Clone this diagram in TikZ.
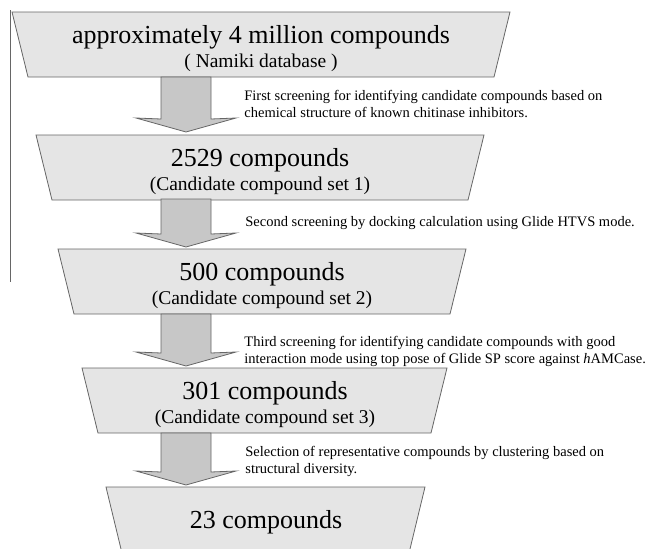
\documentclass[tikz,border=0pt]{standalone}
\usepackage{fontspec}
\setmainfont{Liberation Serif}
\begin{document}
\begin{tikzpicture}[x=1pt, y=-1pt, line width=0.8pt,
    stage/.style={draw=black!60, fill=black!10},
    flow/.style={draw=black!60, fill=black!22},
    big/.style={font=\fontsize{26}{30}\selectfont, anchor=base, inner sep=0pt},
    sub/.style={font=\fontsize{19.5}{23}\selectfont, anchor=base, inner sep=0pt},
    note/.style={font=\fontsize{14.5}{16.5}\selectfont, align=left, anchor=base west, inner sep=0pt}]
    \useasboundingbox (0,0) rectangle (651,549);

    % left rule
    \draw[black!60] (10.5,10) -- (10.5,282);

    % stages
    \foreach \top/\lft/\rgt in {12/12/510, 135/36/484, 249/58/466, 368/82/447}
        \draw[stage] (\lft,\top) -- (\rgt,\top) -- (\rgt-16,\top+65) -- (\lft+16,\top+65) -- cycle;
    \fill[black!10] (106,487) -- (425,487) -- (410,549) -- (121,549) -- cycle;
    \draw[black!60] (121,549) -- (106,487) -- (425,487) -- (410,549);

    % block arrows
    \foreach \top/\tip in {77/132, 199/247, 314/366, 433/485}
        \draw[flow] (161,\top) -- (211,\top) -- (211,\tip-13) -- (236,\tip-14) -- (186,\tip)
            -- (136,\tip-14) -- (161,\tip-13) -- cycle;

    % stage texts
    \node[big] (db) at (261,43) {approximately 4 million compounds};
    \node[sub] (dbname) at (261,67) {( Namiki database )};
    \node[big] (set1) at (260,166) {2529 compounds};
    \node[sub] (set1name) at (260,190) {(Candidate compound set 1)};
    \node[big] (set2) at (262,280) {500 compounds};
    \node[sub] (set2name) at (262,304) {(Candidate compound set 2)};
    \node[big] (set3) at (265,399) {301 compounds};
    \node[sub] (set3name) at (265,423) {(Candidate compound set 3)};
    \node[big] (final) at (266,528) {23 compounds};

    % screening notes (anchored on last line)
    \node[note] (step1) at (244,117) {First screening for identifying candidate compounds based on\\chemical structure of known chitinase inhibitors.};
    \node[note] (step2) at (245,226) {Second screening by docking calculation using Glide HTVS mode.};
    \node[note] (step3) at (244,363) {Third screening for identifying candidate compounds with good\\interaction mode using top pose of Glide SP score against \textit{h}AMCase.};
    \node[note] (step4) at (245,473) {Selection of representative compounds by clustering based on\\structural diversity.};
\end{tikzpicture}
\end{document}
